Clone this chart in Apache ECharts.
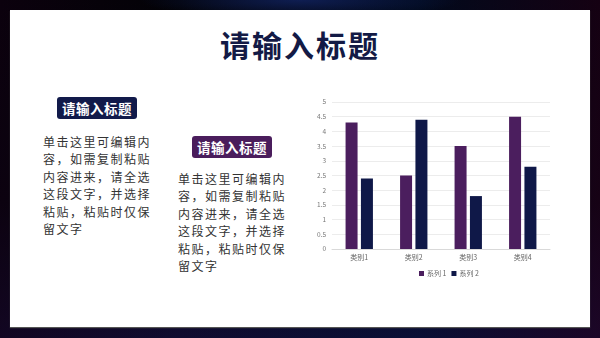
<!DOCTYPE html>
<html><head><meta charset="utf-8">
<script src="https://cdn.jsdelivr.net/npm/echarts@6/dist/echarts.min.js"></script>
<style>
html,body{margin:0;padding:0;width:600px;height:338px;overflow:hidden;}
body{background:linear-gradient(180deg,#020206 0%,#04040c 60%,#100c30 100%);position:relative;font-family:"Noto Sans CJK SC",sans-serif;}
#bg{position:absolute;left:0;top:0;width:600px;height:338px;background:radial-gradient(ellipse 160px 20px at 300px 0px,rgba(20,40,110,0.7),rgba(0,0,0,0)),linear-gradient(90deg,rgba(20,0,20,0.5) 0%,rgba(0,0,0,0) 30%,rgba(0,20,60,0.4) 70%,rgba(40,0,30,0.5) 100%);}
#panel{position:absolute;left:10px;top:10px;width:580px;height:317px;background:#fff;box-shadow:0 1px 1px #555;}
.title{position:absolute;left:0;width:600px;top:22px;text-align:center;font-size:30px;font-weight:bold;color:#131a45;letter-spacing:2px;}
.tag{position:absolute;width:80px;height:22px;border-radius:3px;color:#fff;font-weight:bold;font-size:13.5px;line-height:22px;text-align:center;letter-spacing:0.5px;}
.body{position:absolute;width:115px;font-size:12px;line-height:17.4px;letter-spacing:1.5px;color:#333;}
#chart{position:absolute;left:0;top:0;width:600px;height:338px;}
</style></head>
<body>
<div id="bg"></div>
<div id="panel"></div>
<div class="title">请输入标题</div>
<div class="tag" style="left:57px;top:97px;background:#111a4a;">请输入标题</div>
<div class="body" style="left:43px;top:133px;">单击这里可编辑内容，如需复制粘贴内容进来，请全选这段文字，并选择粘贴，粘贴时仅保留文字</div>
<div class="tag" style="left:192px;top:136px;background:#4a1d5c;">请输入标题</div>
<div class="body" style="left:178px;top:170px;">单击这里可编辑内容，如需复制粘贴内容进来，请全选这段文字，并选择粘贴，粘贴时仅保留文字</div>
<div id="chart"></div>
<script>
var categories = ['类别1','类别2','类别3','类别4'];
var series1 = [4.3, 2.5, 3.5, 4.5];
var series2 = [2.4, 4.4, 1.8, 2.8];
var seriesNames = ['系列 1','系列 2'];

var chart = echarts.init(document.getElementById('chart'));
chart.setOption({
  animation:false,
  textStyle:{fontFamily:'"Noto Sans CJK SC", sans-serif'},
  grid:{left:332,right:50,top:102,bottom:89,containLabel:false},
  legend:{data:seriesNames,top:265,left:414,itemWidth:5,itemHeight:5,itemGap:5,icon:'rect',
    textStyle:{fontSize:7,color:'#666',padding:[0,0,0,-2]}},
  xAxis:{type:'category',data:categories,
    axisLine:{lineStyle:{color:'#d9d9d9'}},axisTick:{show:false},
    axisLabel:{fontSize:7,color:'#666',margin:5}},
  yAxis:{type:'value',min:0,max:5,interval:0.5,
    axisLine:{show:false},axisTick:{show:false},
    axisLabel:{fontSize:6.5,color:'#777',margin:6},
    splitLine:{lineStyle:{color:'#ececec'}}},
  series:[
    {name:seriesNames[0],type:'bar',data:series1,barWidth:12,barGap:'28%',itemStyle:{color:'#4b1e5e'}},
    {name:seriesNames[1],type:'bar',data:series2,barWidth:12,barGap:'28%',itemStyle:{color:'#0f1848'}}
  ]
});
</script>
</body></html>
